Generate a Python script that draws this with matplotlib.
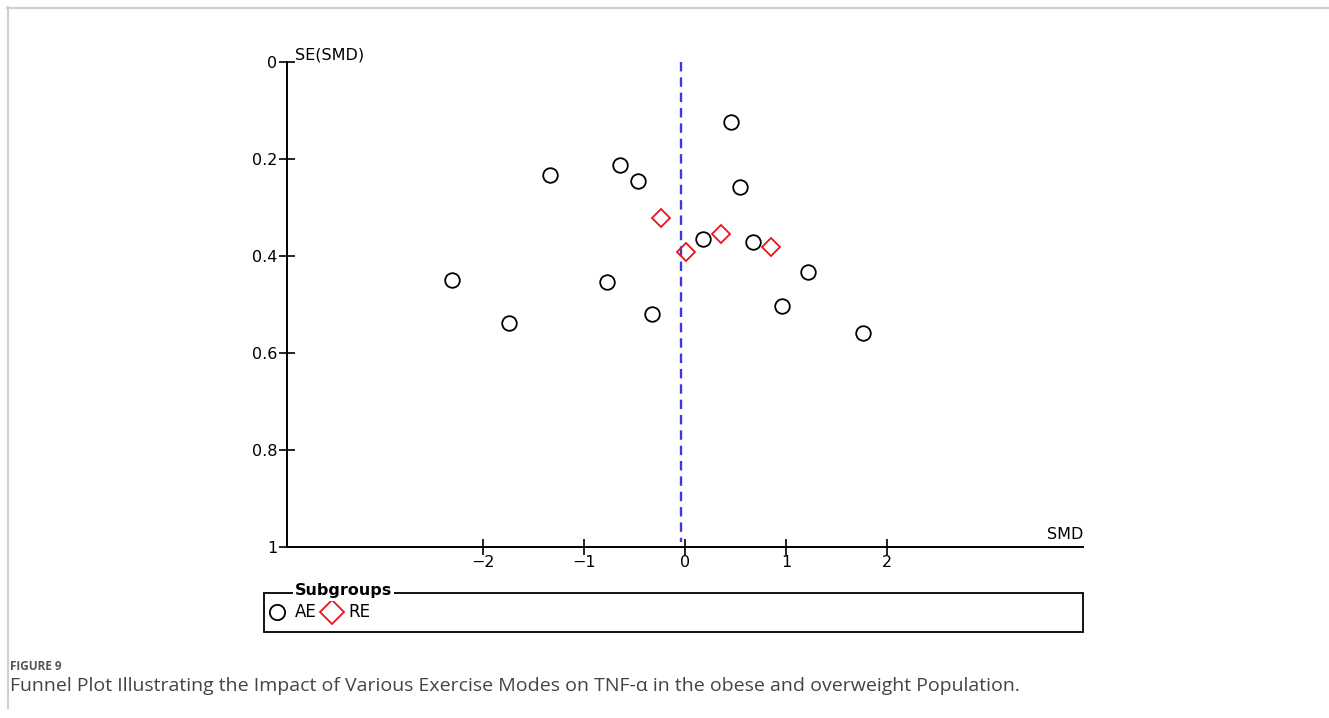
import matplotlib.pyplot as plt
from matplotlib.lines import Line2D
from matplotlib.patches import Rectangle

# Study estimates
ae_smd = [-2.31, -1.74, -1.34, -0.64, -0.47, -0.77, -0.33, 0.46, 0.54, 0.18, 0.67, 1.22, 0.96, 1.76]
ae_se = [0.450, 0.538, 0.233, 0.213, 0.245, 0.454, 0.519, 0.124, 0.257, 0.365, 0.371, 0.433, 0.504, 0.558]
re_smd = [-0.24, 0.01, 0.36, 0.85]
re_se = [0.322, 0.391, 0.355, 0.382]
pooled_smd = -0.04

x_ticks = [-2, -1, 0, 1, 2]
y_ticks = [0, 0.2, 0.4, 0.6, 0.8, 1]
y_tick_labels = ["0", "0.2", "0.4", "0.6", "0.8", "1"]

W, H = 1329, 718
fig = plt.figure(figsize=(W / 100, H / 100), dpi=100)

def fx(px):
    return px / W

def fy(py):
    return 1 - py / H

ax = fig.add_axes([fx(287), fy(547), fx(1083) - fx(287), fy(62) - fy(547)])
ax.set_xlim(-3.94, 3.94)
ax.set_ylim(1, 0)

ax.vlines(pooled_smd, 0, 0.99, colors='#3a3ae0', linestyles=(0, (4, 2.5)), linewidth=1.7)

ax.plot(ae_smd, ae_se, linestyle='none', marker='o', ms=10.5, mfc='none',
        mec='black', mew=1.3, clip_on=False)
ax.plot(re_smd, re_se, linestyle='none', marker='D', ms=9, mfc='none',
        mec='#e8141a', mew=1.3, clip_on=False)

for s in ['top', 'right']:
    ax.spines[s].set_visible(False)
ax.spines['left'].set_linewidth(1.4)
ax.spines['bottom'].set_linewidth(1.4)

ax.set_xticks(x_ticks)
ax.set_xticklabels([str(t).replace('-', '\u2212') for t in x_ticks])
ax.set_yticks(y_ticks)
ax.set_yticklabels(y_tick_labels)
ax.tick_params(axis='both', direction='inout', length=12, width=1.2, labelsize=11.5, pad=1)
ax.tick_params(axis='x', pad=0)

ax.text(0.01, 1.0, 'SE(SMD)', transform=ax.transAxes, fontsize=11.5, ha='left', va='bottom')
ax.text(1.0, 0.01, 'SMD', transform=ax.transAxes, fontsize=11.5, ha='right', va='bottom')

# Legend box with title on the border
fig.patches.append(Rectangle((fx(264), fy(632)), fx(1083) - fx(264), fy(593) - fy(632),
                             transform=fig.transFigure, fill=False, edgecolor='black', linewidth=1.3))
fig.text(fx(295), fy(591), 'Subgroups', fontsize=11.5, fontweight='bold', ha='left', va='center',
         bbox=dict(facecolor='white', edgecolor='none', pad=1.5))
fig.add_artist(Line2D([fx(277)], [fy(612)], transform=fig.transFigure, linestyle='none', marker='o',
                      ms=11, mfc='none', mec='black', mew=1.3))
fig.text(fx(295), fy(612), 'AE', fontsize=12, ha='left', va='center')
fig.add_artist(Line2D([fx(332)], [fy(612)], transform=fig.transFigure, linestyle='none', marker='D',
                      ms=12, mfc='none', mec='#e8141a', mew=1.3))
fig.text(fx(348), fy(612), 'RE', fontsize=12, ha='left', va='center')

# Page frame and caption
fig.add_artist(Line2D([fx(7), 1], [fy(7.5), fy(7.5)], transform=fig.transFigure, color='#cfcfcf', lw=1.5))
fig.add_artist(Line2D([fx(7.5), fx(7.5)], [fy(7), fy(708)], transform=fig.transFigure, color='#cfcfcf', lw=1.5))
fig.text(fx(10), fy(667), 'FIGURE 9', fontsize=8.5, fontweight='bold', color='#555555',
         family='Open Sans', ha='left', va='center')
fig.text(fx(10), fy(686), 'Funnel Plot Illustrating the Impact of Various Exercise Modes on TNF-\u03b1 in the obese and overweight Population.',
         fontsize=14, color='#444444', family='Open Sans', ha='left', va='center')

fig.savefig('out.png', dpi=100)
